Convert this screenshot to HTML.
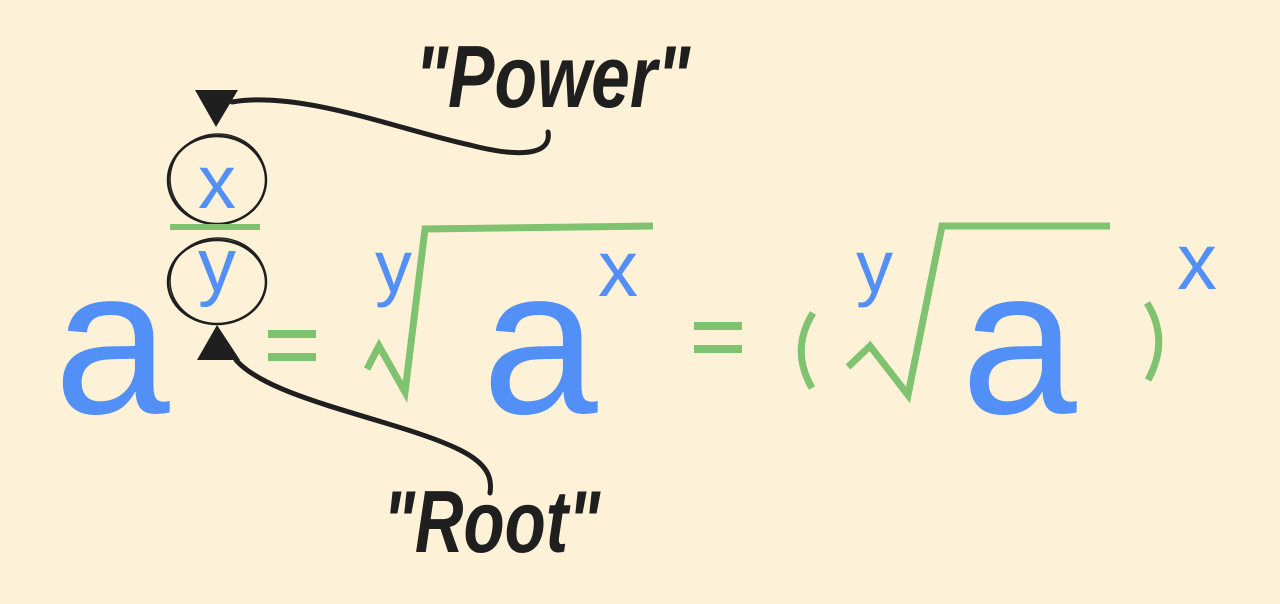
<!DOCTYPE html>
<html><head><meta charset="utf-8"><style>
html,body{margin:0;padding:0;background:#fdf2d7;}
svg{display:block}
.b{fill:#528ff7;font-family:"Liberation Sans",sans-serif;}
.g{stroke:#7fc270;fill:none;}
.k{stroke:#1f1f1f;fill:none;stroke-linecap:round}
.h{fill:#1f1f1f;font-family:"Liberation Sans",sans-serif;font-weight:bold;font-style:italic;}
</style></head><body>
<svg width="1280" height="604" viewBox="0 0 1280 604">
<rect width="1280" height="604" fill="#fdf2d7"/>
<text class="b" x="54" y="413" font-size="208">a</text>
<g>
<ellipse class="k" cx="217" cy="180" rx="49" ry="44" style="stroke-width:2.5"/>
<ellipse class="k" cx="218" cy="179" rx="48" ry="45" style="stroke-width:1.5"/>
</g>
<text class="b" x="198" y="208" font-size="76">x</text>
<line class="g" x1="170" y1="227" x2="260" y2="227" style="stroke-width:6"/>
<g>
<ellipse class="k" cx="217" cy="282" rx="49" ry="42" style="stroke-width:2.5"/>
<ellipse class="k" cx="218" cy="281" rx="48" ry="43" style="stroke-width:1.5"/>
</g>
<text class="b" x="198" y="291" font-size="76">y</text>
<polygon points="195,90 238,90 216,127" fill="#1f1f1f"/>
<path class="k" d="M232,102 C300,90 400,130 470,145 C520,158 552,155 548,132" style="stroke-width:5"/>
<polygon points="217,325 197,360 240,360" fill="#1f1f1f"/>
<path class="k" d="M236,360 C270,400 400,420 460,450 C490,465 492,480 490,493" style="stroke-width:5"/>
<text class="h" x="415" y="107" font-size="88" textLength="275" lengthAdjust="spacingAndGlyphs">"Power"</text>
<text class="h" x="383" y="552" font-size="88" textLength="217" lengthAdjust="spacingAndGlyphs">"Root"</text>
<g><line class="g" x1="268" y1="334" x2="316" y2="334" style="stroke-width:8"/><line class="g" x1="268" y1="357" x2="316" y2="357" style="stroke-width:8"/></g>
<text class="b" x="375" y="292" font-size="74">y</text>
<polyline class="g" points="367,369 379,346 405,392 425,229 653,226" style="stroke-width:7"/>
<text class="b" x="482" y="413" font-size="208">a</text>
<text class="b" x="598" y="296" font-size="80">x</text>
<g><line class="g" x1="694" y1="326" x2="742" y2="326" style="stroke-width:8"/><line class="g" x1="694" y1="349" x2="742" y2="349" style="stroke-width:8"/></g>
<path class="g" d="M813,313 Q790,350 812,388" style="stroke-width:7"/>
<text class="b" x="856" y="292" font-size="74">y</text>
<polyline class="g" points="848,367 870,346 908,395 942,226 1110,226" style="stroke-width:7"/>
<text class="b" x="961" y="413" font-size="208">a</text>
<path class="g" d="M1147,303 Q1170,340 1148,380" style="stroke-width:7"/>
<text class="b" x="1177" y="289" font-size="80">x</text>
</svg>
</body></html>
